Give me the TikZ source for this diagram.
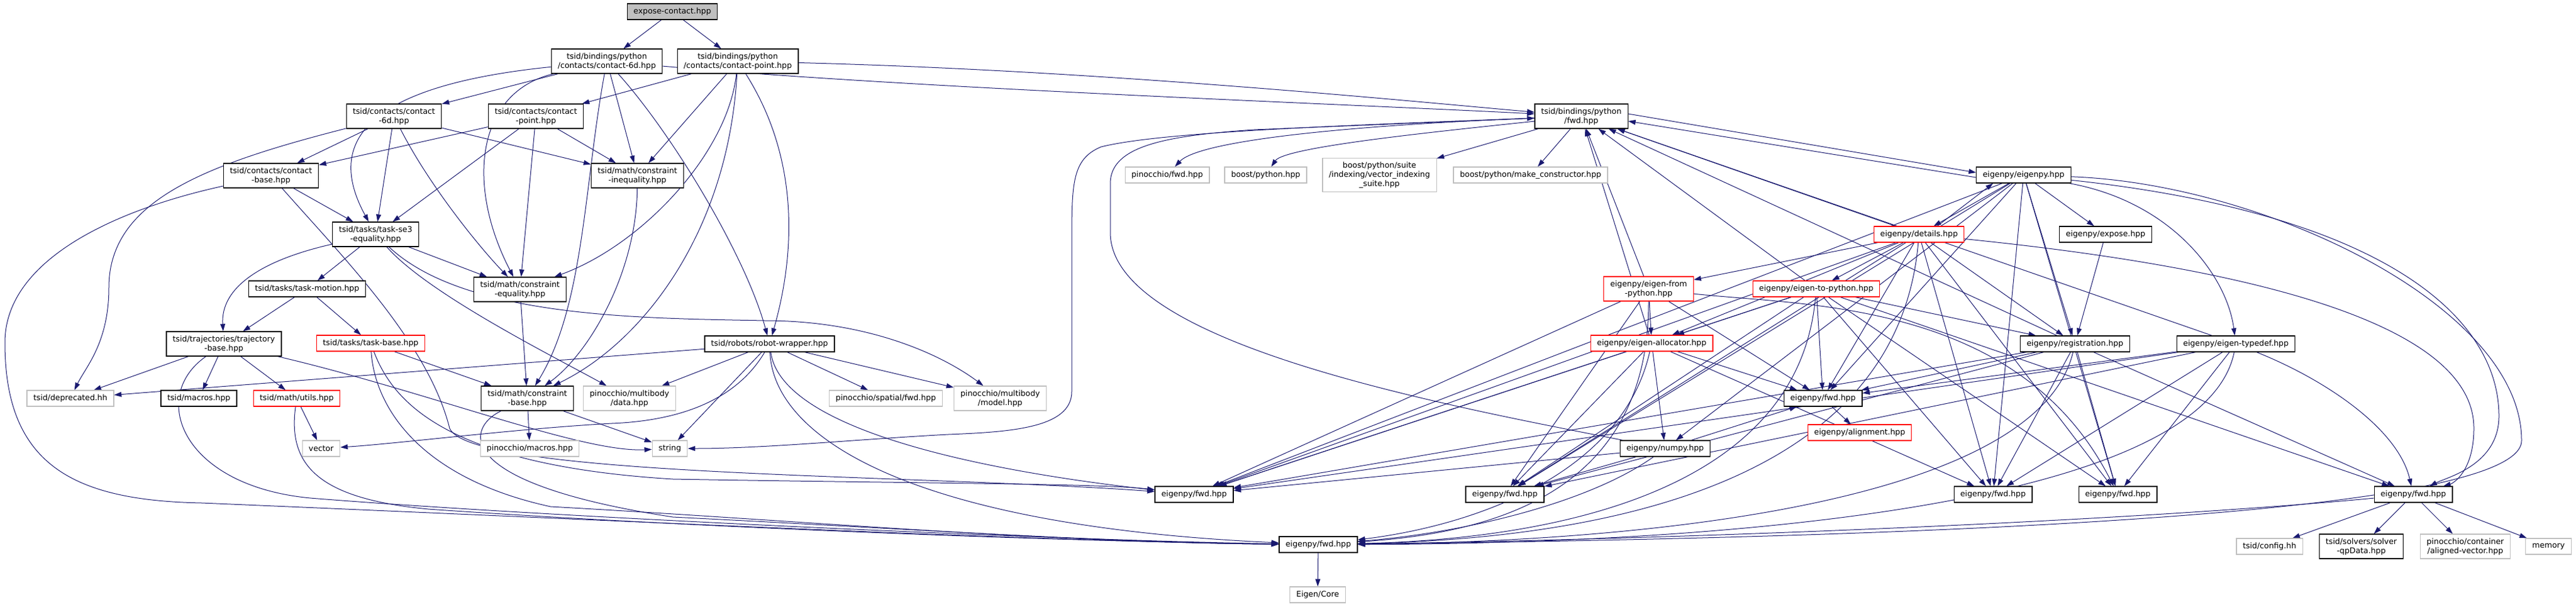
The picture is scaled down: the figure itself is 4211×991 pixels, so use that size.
\documentclass[tikz,border=0pt]{standalone}
\usepackage{fontspec}
\setmainfont{DejaVu Sans}
\usetikzlibrary{arrows.meta}
\pgfdeclarelayer{bg}
\pgfsetlayers{bg,main}
\definecolor{edgec}{HTML}{191970}
\definecolor{redb}{HTML}{FF0000}
\definecolor{grayb}{HTML}{BFBFBF}
\begin{document}
\begin{tikzpicture}[x=1pt,y=-1pt,
  font=\fontsize{12.8}{15}\selectfont,
  nb/.style={draw=black, line width=1.2pt, fill=white, inner xsep=10.5pt, inner ysep=0pt, minimum height=26pt, align=center},
  l2/.style={minimum height=40pt},
  l3/.style={minimum height=55pt},
  rb/.style={draw=redb},
  gb/.style={draw=grayb},
  conn/.style={draw=edgec, line width=1.0pt, -{Triangle[length=12pt,width=8pt]}}]
\useasboundingbox (0,0) rectangle (4211,991);
% ---------------- nodes ----------------
\node[nb, fill=grayb] (ec) at (1099,19) {expose-contact.hpp};
\node[nb,l2] (b6) at (992,100) {tsid/bindings/python\\/contacts/contact-6d.hpp};
\node[nb,l2] (bp) at (1206,100) {tsid/bindings/python\\/contacts/contact-point.hpp};
\node[nb,l2] (c6) at (644,190) {tsid/contacts/contact\\-6d.hpp};
\node[nb,l2] (cp) at (876,190) {tsid/contacts/contact\\-point.hpp};
\node[nb,l2] (pf) at (2585,190) {tsid/bindings/python\\/fwd.hpp};
\node[nb,l2] (cb) at (443,287) {tsid/contacts/contact\\-base.hpp};
\node[nb,l2] (ci) at (1042,287) {tsid/math/constraint\\-inequality.hpp};
\node[nb,gb] (pinf) at (1908,286) {pinocchio/fwd.hpp};
\node[nb,gb] (bpy) at (2069,286) {boost/python.hpp};
\node[nb,gb,l3] (suite) at (2255,286) {boost/python/suite\\/indexing/vector\_indexing\\\_suite.hpp};
\node[nb,gb] (mk) at (2502,286) {boost/python/make\_constructor.hpp};
\node[nb] (ei) at (3308,286) {eigenpy/eigenpy.hpp};
\node[nb,l2] (se3) at (614,383) {tsid/tasks/task-se3\\-equality.hpp};
\node[nb,rb] (det) at (3137,383) {eigenpy/details.hpp};
\node[nb] (exp) at (3442,383) {eigenpy/expose.hpp};
\node[nb,l2] (ce) at (850,473) {tsid/math/constraint\\-equality.hpp};
\node[nb] (tm) at (502,472) {tsid/tasks/task-motion.hpp};
\node[nb,rb,l2] (efp) at (2695,472) {eigenpy/eigen-from\\-python.hpp};
\node[nb,rb] (etp) at (2969,472) {eigenpy/eigen-to-python.hpp};
\node[nb,l2] (tb) at (366,562) {tsid/trajectories/trajectory\\-base.hpp};
\node[nb,rb] (tkb) at (606,561) {tsid/tasks/task-base.hpp};
\node[nb] (rw) at (1258,562) {tsid/robots/robot-wrapper.hpp};
\node[nb,rb] (ea) at (2700,561) {eigenpy/eigen-allocator.hpp};
\node[nb] (reg) at (3392,562) {eigenpy/registration.hpp};
\node[nb] (etd) at (3655,562) {eigenpy/eigen-typedef.hpp};
\node[nb,gb] (dep) at (115,651) {tsid/deprecated.hh};
\node[nb] (mac) at (325,651) {tsid/macros.hpp};
\node[nb,rb] (ut) at (485,651) {tsid/math/utils.hpp};
\node[nb,l2] (cbase) at (862,651) {tsid/math/constraint\\-base.hpp};
\node[nb,gb,l2] (pmd) at (1029,651) {pinocchio/multibody\\/data.hpp};
\node[nb,gb] (psf) at (1448,651) {pinocchio/spatial/fwd.hpp};
\node[nb,gb,l2] (pmm) at (1635,651) {pinocchio/multibody\\/model.hpp};
\node[nb] (fD) at (2980,651) {eigenpy/fwd.hpp};
\node[nb,rb] (al) at (3040,707) {eigenpy/alignment.hpp};
\node[nb,gb] (vec) at (525,733) {vector};
\node[nb,gb] (pmac) at (866,733) {pinocchio/macros.hpp};
\node[nb,gb] (str) at (1095,733) {string};
\node[nb] (np) at (2722,733) {eigenpy/numpy.hpp};
\node[nb] (fA) at (1952,808) {eigenpy/fwd.hpp};
\node[nb] (fB) at (2460,808) {eigenpy/fwd.hpp};
\node[nb] (fG) at (3258,808) {eigenpy/fwd.hpp};
\node[nb] (fF) at (3462,808) {eigenpy/fwd.hpp};
\node[nb] (fE) at (3945,808) {eigenpy/fwd.hpp};
\node[nb] (fC) at (2155,890) {eigenpy/fwd.hpp};
\node[nb,gb] (cfg) at (3710,893) {tsid/config.hh};
\node[nb,l2] (qp) at (3860,893) {tsid/solvers/solver\\-qpData.hpp};
\node[nb,gb,l2] (av) at (4030,893) {pinocchio/container\\/aligned-vector.hpp};
\node[nb,gb] (mem) at (4166,893) {memory};
\node[nb,gb] (ecore) at (2154,972) {Eigen/Core};
% ---------------- edges ----------------
\begin{pgfonlayer}{bg}
\fill[white] (0,0) rectangle (4211,991);
\coordinate (v1) at (178,470);
\coordinate (vL1) at (8,560);
\coordinate (vL2) at (330,822);
\coordinate (vA) at (735,700);
\coordinate (vS) at (1250,524);
\coordinate (vT) at (520,815);
\coordinate (vK) at (900,828);
\coordinate (vK2) at (1100,783);
\coordinate (vU) at (700,832);
\coordinate (vB) at (1100,845);
\coordinate (vV) at (1000,692);
\coordinate (vP1) at (1800,240);
\coordinate (vP) at (1752,400);
\coordinate (vP2) at (1752,640);
\coordinate (vP3) at (1550,710);
\coordinate (vN) at (1815,380);
\coordinate (vN2) at (1815,300);
\coordinate (vN3) at (2050,212);
\coordinate (vR1) at (4122,720);
\coordinate (vR2) at (4044,700);
\coordinate (vR3) at (4085,680);
% top
\draw[conn] (ec) -- (b6);
\draw[conn] (ec) -- (bp);
% bindings contact-6d
\draw[conn] (b6) -- (c6);
\draw[conn] (b6) .. controls (1500,145) and (2200,170) .. (pf);
\draw[conn] (b6) .. controls (600,140) and (530,230) .. (se3);
\draw[conn] (b6) -- (ci);
\draw[conn] (b6) .. controls (780,150) and (760,300) .. (ce);
\draw[conn] (b6) .. controls (955,300) and (955,500) .. (cbase);
\draw[conn] (b6) .. controls (1100,220) and (1220,420) .. (rw);
% bindings contact-point
\draw[conn] (bp) -- (cp);
\draw[conn] (bp) .. controls (1800,115) and (2300,165) .. (pf);
\draw[conn] (bp) -- (ci);
\draw[conn] (bp) .. controls (1190,250) and (1050,400) .. (ce);
\draw[conn] (bp) .. controls (1190,380) and (1050,560) .. (cbase);
\draw[conn] (bp) .. controls (1320,280) and (1290,450) .. (rw);
% contacts
\draw[conn] (c6) -- (cb);
\draw[conn] (c6) -- (se3);
\draw[conn] (c6) -- (ci);
\draw[conn] (c6) .. controls (700,300) and (780,400) .. (ce);
\draw[conn] (c6) .. controls (330,270) and (178,330) .. (v1) .. controls (178,560) and (140,600) .. (dep);
\draw[conn] (cp) -- (cb);
\draw[conn] (cp) -- (se3);
\draw[conn] (cp) -- (ci);
\draw[conn] (cp) -- (ce);
\draw[conn] (cb) -- (se3);
\draw[conn] (cb) .. controls (200,340) and (8,420) .. (vL1) .. controls (8,760) and (120,818) .. (vL2) .. controls (1000,850) and (1700,885) .. (fC);
\draw[conn] (cb) .. controls (560,420) and (700,560) .. (vA) .. controls (770,780) and (1500,775) .. (fA);
% tasks
\draw[conn] (se3) -- (tm);
\draw[conn] (se3) .. controls (450,420) and (360,460) .. (tb);
\draw[conn] (se3) -- (ce);
\draw[conn] (se3) .. controls (700,480) and (900,580) .. (pmd);
\draw[conn] (se3) .. controls (760,520) and (1050,520) .. (vS) .. controls (1420,524) and (1540,580) .. (pmm);
\draw[conn] (ce) -- (cbase);
\draw[conn] (ci) .. controls (1040,450) and (960,580) .. (cbase);
\draw[conn] (tm) -- (tb);
\draw[conn] (tm) -- (tkb);
\draw[conn] (tb) -- (dep);
\draw[conn] (tb) -- (mac);
\draw[conn] (tb) -- (ut);
\draw[conn] (tb) .. controls (700,640) and (950,740) .. (str);
\draw[conn] (tb) .. controls (240,650) and (300,800) .. (vT) .. controls (900,845) and (1700,882) .. (fC);
\draw[conn] (tkb) -- (cbase);
\draw[conn] (tkb) .. controls (612,660) and (680,780) .. (vK) .. controls (1300,850) and (1700,886) .. (fC);
\draw[conn] (tkb) .. controls (640,650) and (720,760) .. (vK2) .. controls (1500,790) and (1800,790) .. (fA);
\draw[conn] (ut) -- (vec);
\draw[conn] (ut) .. controls (470,760) and (520,815) .. (vU) .. controls (1100,860) and (1700,884) .. (fC);
\draw[conn] (cbase) -- (pmac);
\draw[conn] (cbase) -- (str);
\draw[conn] (cbase) .. controls (760,700) and (740,790) .. (vB) .. controls (1500,865) and (1800,886) .. (fC);
% robot wrapper
\draw[conn] (rw) -- (dep);
\draw[conn] (rw) .. controls (1200,660) and (1100,688) .. (vV) .. controls (850,700) and (650,725) .. (vec);
\draw[conn] (rw) -- (str);
\draw[conn] (rw) -- (pmd);
\draw[conn] (rw) -- (psf);
\draw[conn] (rw) -- (pmm);
\draw[conn] (rw) .. controls (1265,720) and (1500,860) .. (fC);
\draw[conn] (rw) .. controls (1280,720) and (1700,780) .. (fA);
% python fwd
\draw[conn] (pf) .. controls (2200,205) and (1960,230) .. (pinf);
\draw[conn] (pf) .. controls (2350,215) and (2100,240) .. (bpy);
\draw[conn] (pf) -- (suite);
\draw[conn] (pf) -- (mk);
\draw[conn] (pf) .. controls (2200,205) and (1900,215) .. (vP1) .. controls (1752,260) and (1752,300) .. (vP) -- (vP2) .. controls (1752,700) and (1650,706) .. (vP3) .. controls (1400,718) and (1250,733) .. (str);
\draw[conn] ([yshift=4pt]pf.east) -- ([yshift=4pt]ei.west);
\draw[conn] ([yshift=-4pt]ei.west) -- ([yshift=-8pt]pf.east);
% numpy
\draw[conn] (np) .. controls (2350,660) and (1815,560) .. (vN) -- (vN2) .. controls (1815,240) and (1900,222) .. (vN3) -- (pf);
\draw[conn] (np) -- (fA);
\draw[conn] (np) -- (fB);
\draw[conn] (np) .. controls (2600,820) and (2400,870) .. (fC);
\draw[conn] (np) -- (fD);
% eigenpy.hpp
\draw[conn] (ei) -- (det);
\draw[conn] ([xshift=30pt]det.north) -- ([xshift=-50pt]ei.south);
\draw[conn] (ei) -- (exp);
\draw[conn] (ei) -- (reg);
\draw[conn] (ei) .. controls (3550,330) and (3640,450) .. (etd);
\draw[conn] (ei) -- (fD);
\draw[conn] (ei) -- (fA);
\draw[conn] (ei) -- (fB);
\draw[conn] (ei) -- (fG);
\draw[conn] (ei) -- (fF);
\draw[conn] (ei) -- (np);
\draw[conn] (ei) .. controls (3900,350) and (4085,520) .. (vR3) .. controls (4085,760) and (4000,780) .. (fE);
\draw[conn] (ei) .. controls (3700,300) and (4122,500) .. (vR1) .. controls (4122,850) and (3000,880) .. (fC);
% details
\draw[conn] (det) -- (pf);
\draw[conn] (det) -- (efp);
\draw[conn] (det) -- (etp);
\draw[conn] (det) -- (ea);
\draw[conn] (det) -- (reg);
\draw[conn] (det) -- (fD);
\draw[conn] (det) -- (fA);
\draw[conn] (det) -- (fB);
\draw[conn] (det) -- (fG);
\draw[conn] (det) -- (fF);
\draw[conn] (det) .. controls (3800,450) and (4044,560) .. (vR2) .. controls (4044,770) and (4010,790) .. (fE);
\draw[conn] (det) .. controls (3100,800) and (2600,880) .. (fC);
% eigen-from-python
\draw[conn] (efp) -- (pf);
\draw[conn] (efp) -- (ea);
\draw[conn] (efp) -- (fD);
\draw[conn] (efp) -- (fA);
\draw[conn] (efp) -- (fB);
\draw[conn] (efp) .. controls (2950,500) and (3300,490) .. (fF);
\draw[conn] (efp) .. controls (2695,800) and (2450,870) .. (fC);
% eigen-to-python
\draw[conn] (etp) -- (pf);
\draw[conn] (etp) -- (ea);
\draw[conn] (etp) -- (reg);
\draw[conn] (etp) -- (fD);
\draw[conn] (etp) -- (fA);
\draw[conn] (etp) -- (fB);
\draw[conn] (etp) -- (fG);
\draw[conn] (etp) -- (fF);
\draw[conn] (etp) -- (fE);
\draw[conn] (etp) .. controls (2940,800) and (2550,880) .. (fC);
% eigen-allocator
\draw[conn] (ea) -- (pf);
\draw[conn] (ea) -- (fD);
\draw[conn] (ea) -- (np);
\draw[conn] (ea) -- (fA);
\draw[conn] (ea) -- (fB);
\draw[conn] (ea) -- (fG);
\draw[conn] (ea) .. controls (2650,780) and (2400,860) .. (fC);
% expose, registration, typedef
\draw[conn] (exp) -- (reg);
\draw[conn] (reg) -- (pf);
\draw[conn] (reg) -- (fD);
\draw[conn] (reg) -- (fA);
\draw[conn] (reg) -- (fB);
\draw[conn] (reg) -- (fG);
\draw[conn] (reg) -- (fF);
\draw[conn] (reg) -- (fE);
\draw[conn] (reg) .. controls (3330,820) and (2700,885) .. (fC);
\draw[conn] (etd) -- (pf);
\draw[conn] (etd) -- (fD);
\draw[conn] (etd) -- (fA);
\draw[conn] (etd) -- (fB);
\draw[conn] (etd) -- (fG);
\draw[conn] (etd) -- (fF);
\draw[conn] (etd) .. controls (3800,620) and (3920,700) .. (fE);
\draw[conn] (etd) .. controls (3600,830) and (2800,888) .. (fC);
% fwd leaves
\draw[conn] (fD) -- (al);
\draw[conn] (fE) -- (cfg);
\draw[conn] (fE) -- (qp);
\draw[conn] (fE) -- (av);
\draw[conn] (fE) -- (mem);
\draw[conn] (fE) .. controls (3500,850) and (2800,880) .. (fC);
\draw[conn] (fC) -- (ecore);
\end{pgfonlayer}
\end{tikzpicture}
\end{document}
